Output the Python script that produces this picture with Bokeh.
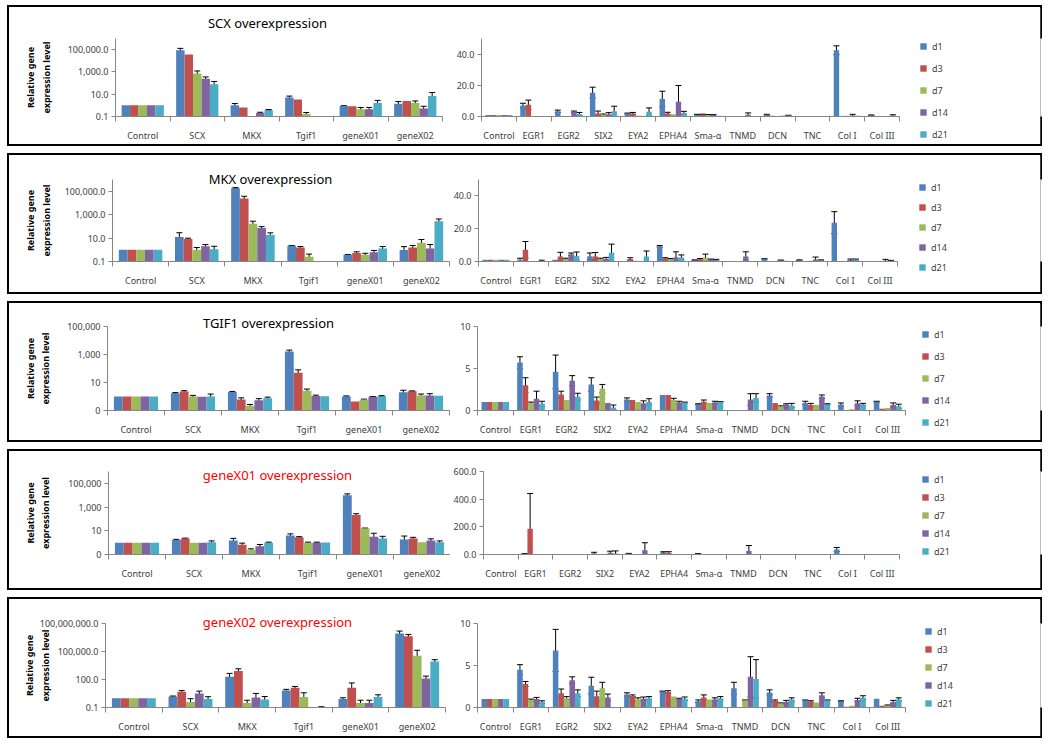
import numpy as np
from bokeh.plotting import figure
from bokeh.models import (ColumnDataSource, Whisker, TeeHead, FixedTicker,
                          NumeralTickFormatter, Legend, LegendItem, Range1d, Label)
from bokeh.layouts import row, column
from bokeh.embed import file_html
from bokeh.resources import INLINE

# ---------------- data ----------------
series = ["d1", "d3", "d7", "d14", "d21"]
colors = ["#4F81BD", "#C0504D", "#9BBB59", "#8064A2", "#4BACC6"]
left_categories = ["Control", "SCX", "MKX", "Tgif1", "geneX01", "geneX02"]
right_categories = ["Control", "EGR1", "EGR2", "SIX2", "EYA2", "EPHA4",
                    "Sma-α", "TNMD", "DCN", "TNC", "Col I", "Col III"]

titles = ["SCX overexpression", "MKX overexpression", "TGIF1 overexpression",
          "geneX01 overexpression", "geneX02 overexpression"]
title_colors = ["black", "black", "black", "#FF0000", "#FF0000"]

# rows = categories, columns = d1, d3, d7, d14, d21
scx_log = [[1, 1, 1, 1, 1], [90000, 36000, 740, 245, 80], [1.0, 0.63, 0.1, 0.21, 0.37],
           [5.0, 3.4, 0.17, 0.09, 0.09], [0.87, 0.85, 0.45, 0.45, 1.6], [1.4, 2.5, 1.6, 0.53, 7]]
scx_log_err = [[0, 0, 0, 0, 0], [40000, 0, 480, 110, 60], [0.45, 0, 0, 0.03, 0.05],
               [1.8, 0, 0.06, 0, 0], [0.05, 0, 0.2, 0.2, 1.2], [0.8, 0, 0.9, 0.3, 7]]
scx_lin = [[1, 1, 1, 1, 1], [7.0, 7.5, 0, 0, 0], [3.3, 0.3, 0, 3.0, 1.6], [15.3, 2.0, 1.1, 1.5, 3.3],
           [1.9, 1.9, 0.5, 0.1, 3.0], [11.2, 1.9, 1.5, 9.4, 2.3], [1.2, 1.3, 1.0, 1.1, 0.5],
           [0, 0, 0, 1.2, 0], [1.1, 0.5, 0.3, 0.5, 0.6], [0.4, 0.2, 0.4, 0.4, 0.4],
           [42.5, 0.3, 0.5, 0.6, 0.5], [0.8, 0.1, 0.3, 0.4, 0.6]]
scx_lin_err = [[0, 0, 0, 0, 0], [1.5, 3.0, 0, 0, 0], [0.8, 0, 0, 0.5, 1.0], [3.5, 1.5, 0.5, 1.0, 3.3],
               [0.3, 0.7, 0, 0, 2.5], [5.0, 0.8, 0, 10.5, 1.0], [0.2, 0.2, 0.2, 0.2, 0],
               [0, 0, 0, 1.1, 0], [0.3, 0, 0, 0, 0.2], [0, 0, 0, 0, 0],
               [2.8, 0, 0, 0.8, 0], [0.2, 0, 0, 0, 0.5]]

mkx_log = [[1, 1, 1, 1, 1], [12.6, 8.3, 0.96, 2.0, 1.1], [182000, 24000, 167, 71, 18],
           [2.2, 1.6, 0.25, 0.09, 0.09], [0.38, 0.52, 0.38, 0.63, 1.3], [0.96, 1.6, 4, 1.3, 275]]
mkx_log_err = [[0, 0, 0, 0, 0], [16, 1.5, 0.6, 0.8, 0.9], [20000, 13000, 110, 24, 10],
               [0.1, 0.3, 0.18, 0, 0], [0.02, 0.15, 0.12, 0.25, 0.6], [0.9, 0.7, 3.5, 1.5, 150]]
mkx_lin = [[1, 1, 1, 1, 1], [1.0, 7.2, 0, 0, 0], [1.0, 3.1, 1.5, 4.4, 3.3], [3.2, 3.0, 1.5, 1.5, 5.3],
           [0.3, 1.5, 0.5, 0.2, 3.1], [9.2, 1.8, 1.3, 2.6, 2.5], [0.8, 1.3, 2.5, 1.2, 0.8],
           [0, 0, 0, 3.1, 0], [1.5, 0.3, 0.1, 0.7, 0.4], [0.8, 0.1, 0.4, 1.2, 0.7],
           [23.7, 0.1, 0.3, 1.0, 1.0], [0.3, 0.1, 0.2, 0.5, 0.5]]
mkx_lin_err = [[0, 0, 0, 0, 0], [1.0, 5.0, 0, 0, 0.8], [0, 2.5, 0.5, 0.8, 2.5], [2.0, 2.5, 0.5, 1.0, 5.3],
               [0, 0.8, 0, 0, 3.3], [0.5, 0.5, 0.5, 3.3, 1.5], [0.2, 0.5, 2.0, 0.3, 0.5],
               [0, 0, 0, 2.8, 0], [0.2, 0, 0, 0.2, 0], [0.2, 0, 0, 1.5, 0.3],
               [6.7, 0, 0, 0.5, 0.5], [0, 0, 0, 0.8, 0.2]]

tgif1_log = [[1, 1, 1, 1, 1], [1.7, 2.3, 1.0, 0.95, 1.0], [2.1, 0.6, 0.22, 0.55, 0.75],
             [1660, 50, 2.6, 1.1, 1.05], [1.0, 0.44, 0.6, 0.95, 1.05], [2.0, 2.4, 1.2, 1.2, 1.15]]
tgif1_log_err = [[0, 0, 0, 0, 0], [0.2, 0.3, 0.2, 0, 0.5], [0.2, 0.2, 0.05, 0.15, 0.15],
                 [400, 30, 0.8, 0.15, 0], [0.1, 0, 0.05, 0.05, 0.1], [0.8, 0.1, 0.3, 0.4, 0]]
tgif1_lin = [[1, 1, 1, 1, 1], [5.7, 3.0, 0.85, 1.4, 0.8], [4.6, 1.9, 1.25, 3.55, 1.65],
             [3.1, 1.2, 2.6, 0.9, 0.35], [1.3, 1.25, 1.0, 0.85, 1.0], [1.85, 1.85, 1.25, 0.95, 0.95],
             [0.75, 1.05, 0.9, 0.95, 1.0], [0.05, 0.05, 0.0, 1.3, 1.5], [1.8, 0.9, 0.45, 0.7, 0.6],
             [0.9, 0.65, 0.65, 1.65, 0.75], [0.7, 0.05, 0.15, 0.85, 0.7], [1.05, 0.2, 0.3, 0.65, 0.5]]
tgif1_lin_err = [[0, 0, 0, 0, 0], [0.7, 0.9, 0.15, 0.9, 0.3], [2.0, 0.4, 0, 0.6, 0.4],
                 [0.8, 0.4, 0.5, 0, 0.3], [0.2, 0, 0, 0.3, 0.4], [0, 0, 0.2, 0.15, 0.05],
                 [0.05, 0.2, 0, 0.15, 0.05], [0, 0, 0, 0.7, 0.5], [0.2, 0, 0.1, 0.1, 0.25],
                 [0.2, 0.2, 0, 0.2, 0.05], [0.2, 0, 0, 0.3, 0.15], [0.05, 0, 0, 0.25, 0.25]]

genex01_log = [[1, 1, 1, 1, 1], [1.7, 2.2, 1.0, 1.0, 1.1], [1.5, 0.66, 0.25, 0.5, 1.0],
               [4, 2.8, 1.0, 1.0, 1.05], [10000, 215, 16, 3.2, 2.2], [1.8, 2.2, 1.1, 1.5, 1.1]]
genex01_log_err = [[0, 0, 0, 0, 0], [0.2, 0.2, 0, 0, 0.3], [0.8, 0.25, 0.05, 0.2, 0.1],
                   [1.5, 0.4, 0.1, 0.1, 0], [3000, 60, 1, 3, 1.2], [1.8, 0.6, 0, 0.6, 0.3]]
genex01_lin = [[1, 1, 1, 1, 1], [5, 186, 0, 0, 0], [2, 0, 0, 3, 0], [8, 0, 0, 12, 8],
               [5, 0, 0, 30, 0], [15, 10, 0, 0, 0], [5, 0, 0, 0, 0], [0, 0, 0, 25, 0],
               [1, 1, 1, 1, 1], [1, 1, 1, 1, 1], [36, 1, 1, 1, 1], [1, 1, 1, 1, 1]]
genex01_lin_err = [[0, 0, 0, 0, 0], [2, 255, 0, 0, 0], [0, 0, 0, 0, 0], [8, 0, 0, 12, 18],
                   [3, 0, 0, 55, 0], [5, 10, 0, 0, 0], [2, 0, 0, 0, 0], [0, 0, 0, 40, 0],
                   [0, 0, 0, 0, 0], [0, 0, 0, 0, 0], [15, 0, 0, 0, 0], [0, 0, 0, 0, 0]]

genex02_log = [[1, 1, 1, 1, 1], [1.5, 5, 0.38, 3.2, 0.83], [200, 800, 0.3, 1.2, 0.7],
               [6.8, 13, 1.3, 0.07, 0.07], [0.8, 13, 0.3, 0.3, 1.3], [8.5e6, 4.3e6, 36000, 130, 8300]]
genex02_log_err = [[0, 0, 0, 0, 0], [0.2, 1.5, 0.5, 2.5, 0.6], [250, 600, 0.3, 2, 0.8],
                   [2, 5, 2.5, 0, 0.05], [0.3, 30, 0.3, 0.3, 1.0], [7e6, 2.5e6, 100000, 100, 5000]]
genex02_lin = [[1, 1, 1, 1, 1], [4.5, 2.8, 0.85, 1.0, 0.65], [6.8, 1.7, 1.1, 3.25, 1.7],
               [2.6, 1.35, 2.3, 1.2, 0.0], [1.55, 1.4, 0.95, 1.05, 1.1], [1.9, 1.85, 1.3, 1.05, 1.05],
               [0.75, 1.2, 0.95, 0.95, 1.1], [2.3, 0.0, 0.85, 3.65, 3.4], [1.8, 0.8, 0.5, 0.65, 0.95],
               [0.85, 0.7, 0.6, 1.45, 0.85], [0.75, 0.1, 0.2, 0.9, 1.15], [1.05, 0.2, 0.25, 0.65, 0.95]]
genex02_lin_err = [[0, 0, 0, 0, 0], [0.6, 0.3, 0.15, 0.2, 0.15], [2.5, 0.5, 0.2, 0.4, 0.4],
                   [1.0, 0.6, 0.7, 0.4, 0], [0.2, 0.1, 0.2, 0.2, 0.2], [0.05, 0.15, 0, 0.05, 0.2],
                   [0.15, 0.3, 0, 0.2, 0.2], [0.7, 0, 0.05, 2.4, 2.3], [0.3, 0.1, 0.05, 0.2, 0.2],
                   [0.05, 0.1, 0, 0.3, 0.05], [0.05, 0, 0, 0.2, 0.25], [0, 0, 0.05, 0.2, 0.2]]

log_tick_values = [[0.1, 10, 1000, 100000], [0.1, 10, 1000, 100000], [0.1, 10, 1000, 100000],
                   [0.1, 10, 1000, 100000], [0.1, 100, 100000, 100000000]]
log_range_top = [1e6, 1e6, 1e5, 1e6, 1e8]
log_formats = ["0,0.0", "0,0.0", "0,0", "0,0", "0,0.0"]
lin_tick_values = [[0, 20, 40], [0, 20, 40], [0, 5, 10], [0, 200, 400, 600], [0, 5, 10]]
lin_range_top = [50, 50, 10, 600, 10]
lin_formats = ["0.0", "0.0", "0", "0.0", "0"]

log_data = [scx_log, mkx_log, tgif1_log, genex01_log, genex02_log]
log_errs = [scx_log_err, mkx_log_err, tgif1_log_err, genex01_log_err, genex02_log_err]
lin_data = [scx_lin, mkx_lin, tgif1_lin, genex01_lin, genex02_lin]
lin_errs = [scx_lin_err, mkx_lin_err, tgif1_lin_err, genex01_lin_err, genex02_lin_err]

# ---------------- layout / style ----------------
FONT = "Noto Sans"
TXT = "#404040"
AX = "#868686"
BAR_W = 0.155
H = 137
LW = 441
INNER_W = 1031
IH = 16   # legend item height
GWID = 18  # legend key box width (marker is centred in it)

# tx: title centre from left plot-area edge; ty: title centre above plot-area top
geo = [
    dict(l=106, lfw=327, lt=27, lfh=88, r=31, rfw=418, rt=31, rfh=84, tx=152, ty=16, yst=12, ldx=21, lc=7, lp=22),
    dict(l=103, lfw=337, lt=20, lfh=87, r=25, rfw=422, rt=22, rfh=84, tx=158, ty=1, yst=9, ldx=22, lc=10, lp=20),
    dict(l=98, lfw=342, lt=18, lfh=90, r=27, rfw=428, rt=23, rfh=84, tx=161, ty=4, yst=12, ldx=17, lc=6, lp=22),
    dict(l=99, lfw=342, lt=20, lfh=87, r=30, rfw=419, rt=19, rfh=84, tx=169, ty=-3, yst=13, ldx=23, lc=6, lp=18),
    dict(l=96, lfw=340, lt=20, lfh=89, r=27, rfw=428, rt=24, rfh=84, tx=172, ty=2, yst=-15, ldx=20, lc=6, lp=18),
]


def style(p, cats):
    n = len(cats)
    p.outline_line_color = None
    p.xgrid.visible = False
    p.ygrid.visible = False
    p.background_fill_color = "white"
    p.border_fill_color = "white"
    xa = p.xaxis[0]
    xa.ticker = FixedTicker(ticks=list(range(n)), minor_ticks=[i - 0.5 for i in range(n + 1)])
    xa.major_label_overrides = {i: c for i, c in enumerate(cats)}
    xa.axis_line_color = AX
    xa.major_tick_line_color = None
    xa.major_tick_out = 0
    xa.minor_tick_line_color = AX
    xa.minor_tick_out = 5
    xa.minor_tick_in = 0
    xa.major_label_standoff = 7
    xa.major_label_text_font = FONT
    xa.major_label_text_font_size = "9px"
    xa.major_label_text_color = TXT
    ya = p.yaxis[0]
    ya.axis_line_color = AX
    ya.major_tick_line_color = AX
    ya.major_tick_out = 4
    ya.major_tick_in = 0
    ya.minor_tick_line_color = None
    ya.major_label_standoff = 3
    ya.major_label_text_font = FONT
    ya.major_label_text_font_size = "9px"
    ya.major_label_text_color = TXT


def add_bars(p, vals, errs, log):
    n = len(vals)
    base = 0.1 if log else 0.0
    sources = []
    for j in range(len(series)):
        xs = [i + (j - 2) * BAR_W for i in range(n)]
        tops = [vals[i][j] for i in range(n)]
        src = ColumnDataSource(dict(x=xs, top=tops, bottom=[base] * n))
        sources.append(src)
        p.vbar(x="x", top="top", bottom="bottom", width=BAR_W, source=src,
               fill_color=colors[j], line_color=None)
        ex, up, lo = [], [], []
        for i in range(n):
            e = errs[i][j]
            if e > 0:
                v = tops[i]
                ex.append(xs[i])
                up.append(v + e)
                lo.append(max(v - e, base * 1.02) if log else max(v - e, 0.0))
        if ex:
            es = ColumnDataSource(dict(x=ex, upper=up, lower=lo))
            p.add_layout(Whisker(source=es, base="x", upper="upper", lower="lower",
                                 line_color="black", line_width=1,
                                 upper_head=TeeHead(size=6, line_color="black", line_width=1),
                                 lower_head=TeeHead(size=6, line_color="black", line_width=1)))
    return sources


panels = []
for k in range(5):
    g = geo[k]
    # left (log) chart
    pl = figure(width=LW, height=H, y_axis_type="log",
                x_range=Range1d(-0.5, len(left_categories) - 0.5),
                y_range=Range1d(0.1, log_range_top[k]),
                output_backend="svg", toolbar_location=None,
                min_border=0, min_border_left=g["l"], min_border_right=LW - g["l"] - g["lfw"],
                min_border_top=g["lt"], min_border_bottom=H - g["lt"] - g["lfh"])
    style(pl, left_categories)
    add_bars(pl, log_data[k], log_errs[k], True)
    pl.yaxis[0].ticker = FixedTicker(ticks=log_tick_values[k], minor_ticks=[])
    pl.yaxis[0].formatter = NumeralTickFormatter(format=log_formats[k])
    pl.yaxis[0].axis_label = "Relative gene\nexpression level"
    pl.yaxis[0].axis_label_text_font = FONT
    pl.yaxis[0].axis_label_text_font_size = "9px"
    pl.yaxis[0].axis_label_text_font_style = "bold"
    pl.yaxis[0].axis_label_text_color = "black"
    pl.yaxis[0].axis_label_standoff = g["yst"]
    pl.add_layout(Label(x=g["tx"], y=g["ty"], x_units="screen", y_units="screen",
                        text=titles[k], text_align="center", text_baseline="middle",
                        text_font=FONT, text_font_size="13px", text_color=title_colors[k]),
                  "above")

    # right (linear) chart; its canvas ends where the legend key boxes begin
    RW = g["r"] + g["rfw"] + g["ldx"] - 6
    pr = figure(width=RW, height=H,
                x_range=Range1d(-0.5, len(right_categories) - 0.5),
                y_range=Range1d(0, lin_range_top[k]),
                output_backend="svg", toolbar_location=None,
                min_border=0, min_border_left=g["r"], min_border_right=g["ldx"] - 6,
                min_border_top=g["rt"], min_border_bottom=H - g["rt"] - g["rfh"])
    style(pr, right_categories)
    srcs = add_bars(pr, lin_data[k], lin_errs[k], False)
    pr.yaxis[0].ticker = FixedTicker(ticks=lin_tick_values[k], minor_ticks=[])
    pr.yaxis[0].formatter = NumeralTickFormatter(format=lin_formats[k])

    # legend strip: legend sits in the strip's left side panel (not clipped);
    # its keys share the bar sources, and its range shows none of them
    GW = INNER_W - LW - RW
    sp = g["lp"] - IH
    top_px = int(round(g["rt"] + g["lc"] - IH / 2))
    pg = figure(width=GW, height=H, x_range=Range1d(1000, 1001), y_range=Range1d(0, 1),
                output_backend="svg", toolbar_location=None, min_border=0,
                min_border_left=0, min_border_right=0, min_border_bottom=0,
                min_border_top=top_px, x_axis_location=None, y_axis_location=None)
    pg.outline_line_color = None
    pg.xgrid.visible = False
    pg.ygrid.visible = False
    keys = []
    for j, s in enumerate(series):
        rr = pg.scatter(x="x", y="top", marker="square", size=7, source=srcs[j],
                        fill_color=colors[j], line_color=None)
        keys.append(LegendItem(label=s, renderers=[rr]))
    legend = Legend(items=keys, orientation="vertical", location="top_left",
                    border_line_color=None, background_fill_alpha=0,
                    padding=0, margin=0, spacing=sp,
                    glyph_width=GWID, glyph_height=IH, label_height=IH, label_standoff=0,
                    label_text_font=FONT, label_text_font_size="9px", label_text_color=TXT)
    pg.add_layout(legend, "left")

    panels.append(row(pl, pr, pg, styles={"border": "2px solid black"}))

layout = column(*panels, spacing=7, styles={"margin-left": "7px", "margin-top": "5px"})

open("out.html", "w").write(file_html(layout, INLINE))
